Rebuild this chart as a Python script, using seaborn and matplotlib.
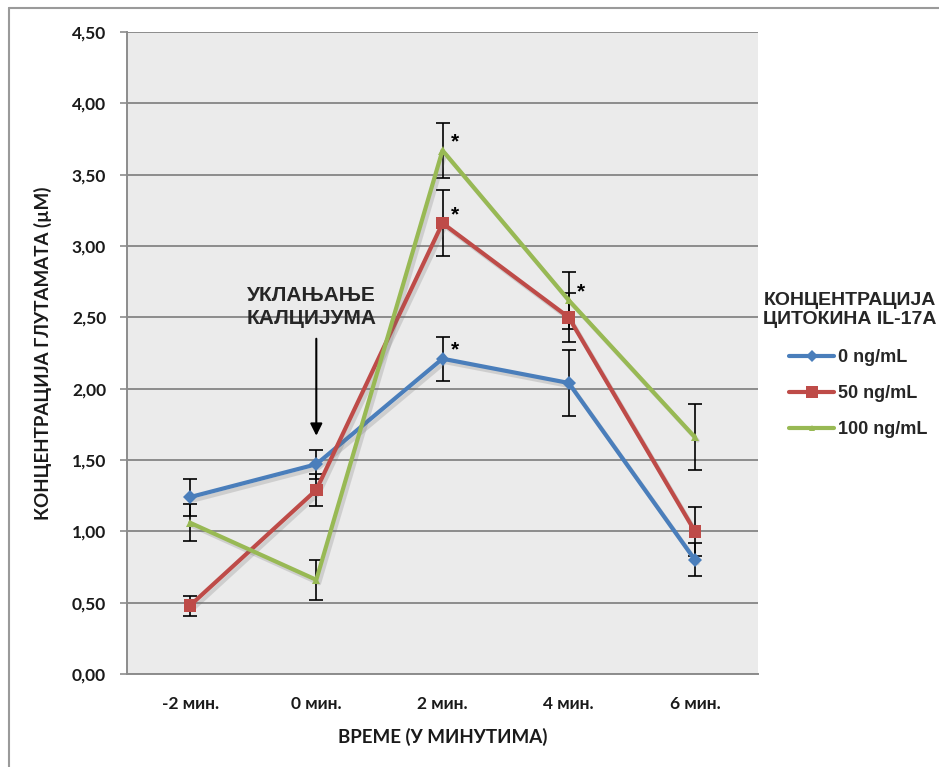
import numpy as np
import pandas as pd
import seaborn as sns
import matplotlib
matplotlib.use("Agg")
import matplotlib.pyplot as plt
import matplotlib.patheffects as pe
from matplotlib.lines import Line2D

# Glutamate release after calcium removal, by IL-17A concentration
times = ["-2 мин.", "0 мин.", "2 мин.", "4 мин.", "6 мин."]
series = ["0 ng/mL", "50 ng/mL", "100 ng/mL"]

glu_0 = [1.24, 1.47, 2.21, 2.04, 0.80]
glu_50 = [0.48, 1.29, 3.16, 2.50, 1.00]
glu_100 = [1.06, 0.66, 3.67, 2.62, 1.66]

err_0 = [0.13, 0.10, 0.155, 0.23, 0.115]
err_50 = [0.07, 0.11, 0.23, 0.17, 0.17]
err_100 = [0.13, 0.14, 0.19, 0.20, 0.23]

# significance marks: (series, time index)
stars = [("0 ng/mL", 2), ("50 ng/mL", 2), ("100 ng/mL", 2), ("100 ng/mL", 3)]

colors = {"0 ng/mL": "#4a7ebb", "50 ng/mL": "#be4b48", "100 ng/mL": "#98b954"}
markers = {"0 ng/mL": "D", "50 ng/mL": "s", "100 ng/mL": "^"}
msizes = {"0 ng/mL": 7, "50 ng/mL": 9, "100 ng/mL": 6}

values = {"0 ng/mL": glu_0, "50 ng/mL": glu_50, "100 ng/mL": glu_100}
errors = {"0 ng/mL": err_0, "50 ng/mL": err_50, "100 ng/mL": err_100}

rows = []
for s in series:
    for i, t in enumerate(times):
        rows.append({"pos": i, "time": t, "series": s, "value": values[s][i], "err": errors[s][i]})
df = pd.DataFrame(rows)

sns.set_theme(style="white")
plt.rcParams["font.family"] = ["Lato", "DejaVu Sans"]

fig = plt.figure(figsize=(9.39, 7.67), dpi=100)
ax = fig.add_axes([127 / 939, 1 - 674 / 767, (758 - 127) / 939, (674 - 32) / 767])
ax.set_facecolor("#ebebeb")

# error bars beneath the lines
for s in series:
    d = df[df.series == s]
    ax.errorbar(d["pos"], d["value"], yerr=d["err"], fmt="none", ecolor="black",
                elinewidth=1.2, capsize=5, capthick=1.2, zorder=3)

sns.lineplot(data=df, x="pos", y="value", hue="series", style="series",
             palette=colors, markers=markers, dashes=False, sort=False,
             linewidth=3, markeredgewidth=0, ax=ax, legend=False, zorder=4)

shadow = [pe.SimpleLineShadow(offset=(2, -2.5), shadow_color="#6a6a6a", alpha=0.22),
          pe.Normal()]
for line, s in zip(ax.get_lines()[-3:], series):
    line.set_markersize(msizes[s])
    line.set_path_effects(shadow)

for s, i in stars:
    ax.annotate("*", (i, values[s][i]), xytext=(9, 6), textcoords="offset points",
                fontsize=15, fontweight="bold", family="Liberation Sans",
                ha="center", va="center", color="black", zorder=6)

# calcium removal marker
ax.annotate("", xy=(1, 1.67), xytext=(1, 2.35),
            arrowprops=dict(arrowstyle="-|>", color="black", lw=1.5,
                            mutation_scale=18, shrinkA=0, shrinkB=0))
ax.text(0.96, 2.57, "УКЛАЊАЊЕ\nКАЛЦИЈУМА", ha="center", va="center",
        fontsize=15, fontweight="bold", family="Liberation Sans",
        linespacing=1.25, zorder=6)

ax.set_xlim(-0.5, 4.5)
ax.set_ylim(0, 4.5)
ax.set_yticks(np.arange(0, 4.51, 0.5))
ax.set_yticklabels([f"{v:.2f}".replace(".", ",") for v in np.arange(0, 4.51, 0.5)])
ax.set_xticks(range(len(times)))
ax.set_xticklabels(times)
ax.grid(axis="y", color="#8c8c8c", linewidth=1.4)
ax.grid(axis="x", visible=False)
ax.set_axisbelow(True)

for side in ["top", "right"]:
    ax.spines[side].set_visible(False)
for side in ["left", "bottom"]:
    ax.spines[side].set_color("#8c8c8c")
    ax.spines[side].set_linewidth(1.4)

ax.tick_params(axis="y", which="major", left=True, length=5, width=1.2,
               color="#8c8c8c", pad=10, labelsize=12.5)
ax.tick_params(axis="x", which="major", bottom=False, pad=10, labelsize=12.5)
for lab in ax.get_xticklabels() + ax.get_yticklabels():
    lab.set_fontweight("bold")
    lab.set_color("#1a1a1a")

ax.set_xlabel("ВРЕМЕ (У МИНУТИМА)", fontsize=13.5, fontweight="bold",
              labelpad=11, color="#1a1a1a")
ax.set_ylabel("КОНЦЕНТРАЦИЈА ГЛУТАМАТА (µM)", fontsize=13.5, fontweight="bold",
              labelpad=14, color="#1a1a1a")

# legend heading and entries
fig.text(850 / 939, 1 - 310 / 767, "КОНЦЕНТРАЦИЈА\nЦИТОКИНА IL-17A", ha="center", va="center",
         fontsize=14, fontweight="bold", family="Liberation Sans", linespacing=1.15)
handles = [Line2D([], [], color=colors[s], marker=markers[s], markersize=msizes[s] - 1,
                  markeredgewidth=0, linewidth=3) for s in series]
leg = fig.legend(handles, series, loc="upper left", bbox_to_anchor=(773 / 939, 1 - 333 / 767),
                 frameon=False, handlelength=2.5, labelspacing=1.05, handletextpad=0.2,
                 prop={"family": "Liberation Sans", "weight": "bold", "size": 13})

# outer frame of the chart area
fig.add_artist(Line2D([9 / 939, 9 / 939], [0, 1 - 8 / 767], color="#9a9a9a", lw=1.5,
                      transform=fig.transFigure))
fig.add_artist(Line2D([9 / 939, 1], [1 - 8 / 767, 1 - 8 / 767], color="#9a9a9a", lw=1.5,
                      transform=fig.transFigure))

fig.savefig("out.png", dpi=100, facecolor="white")
